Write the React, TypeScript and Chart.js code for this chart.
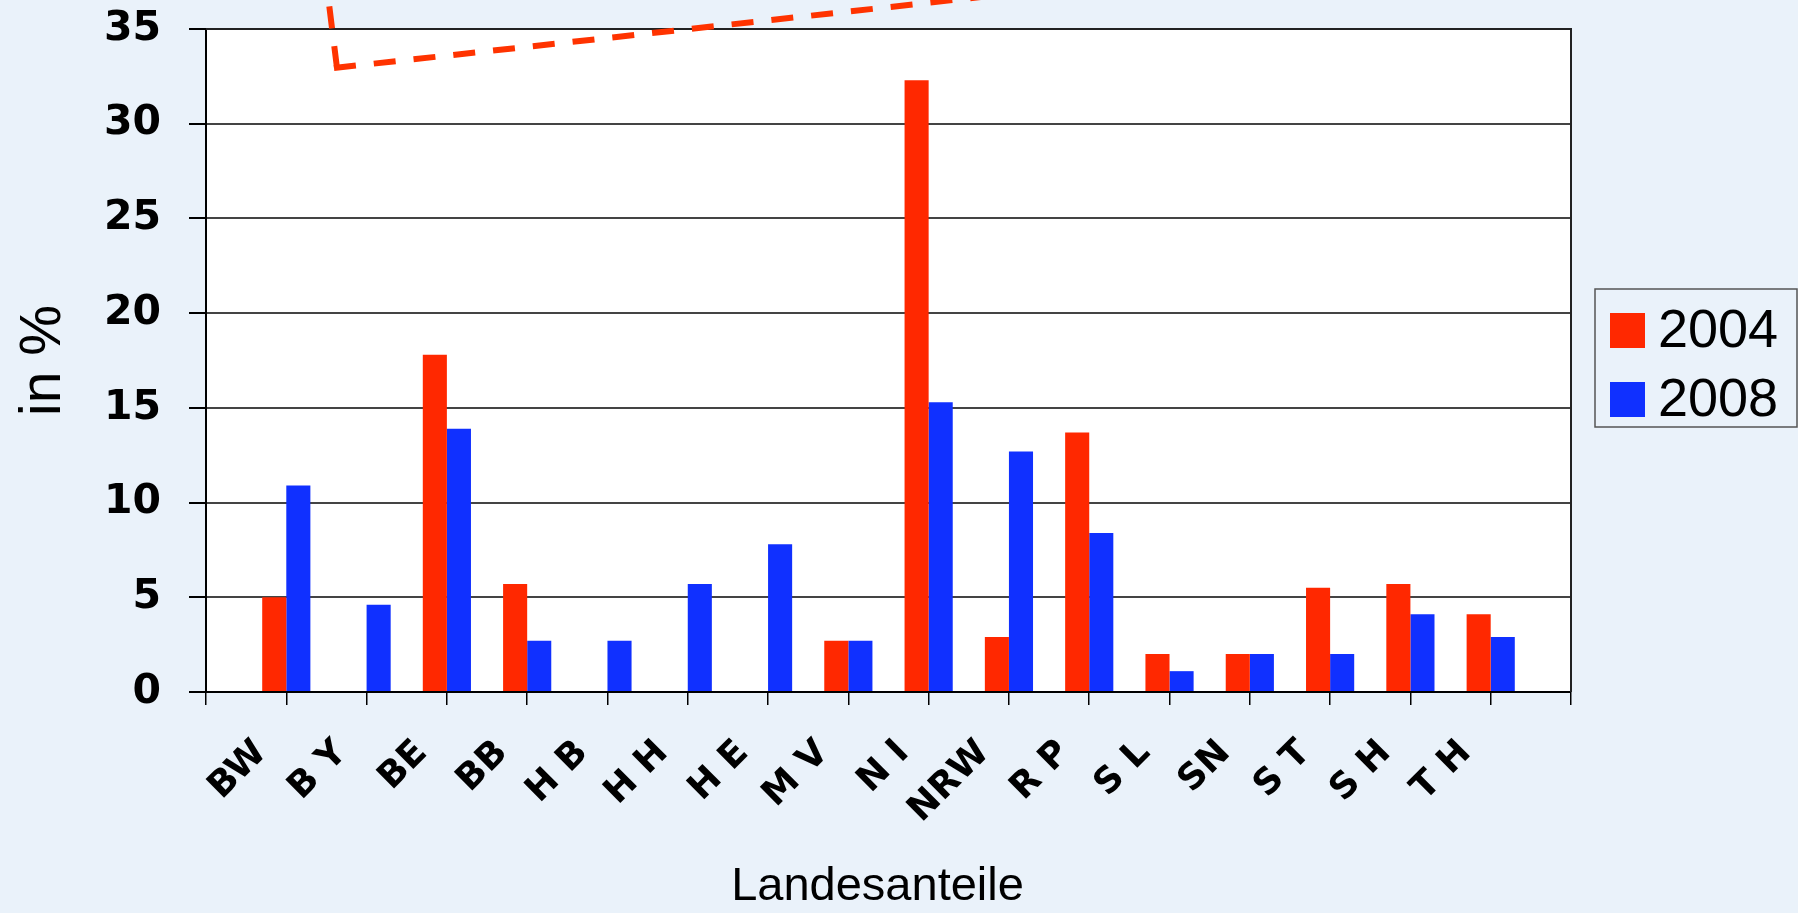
import React, { useEffect, useRef } from "react";
import { Chart, registerables } from "chart.js";

Chart.register(...registerables);

const categories = ["BW", "B Y", "BE", "BB", "H B", "H H", "H E", "M V", "N I", "NRW", "R P", "S L", "SN", "S T", "S H", "T H"];
const values2004 = [5.0, 0, 17.8, 5.7, 0, 0, 0, 2.7, 32.3, 2.9, 13.7, 2.0, 2.0, 5.5, 5.7, 4.1];
const values2008 = [10.9, 4.6, 13.9, 2.7, 2.7, 5.7, 7.8, 2.7, 15.3, 12.7, 8.4, 1.1, 2.0, 2.0, 4.1, 2.9];
const seriesNames = ["2004", "2008"];
const yTicks = [0, 5, 10, 15, 20, 25, 30, 35];
const xTitle = "Landesanteile";
const yTitle = "in %";

const RED = "#FF2800";
const BLUE = "#1030FF";
const BG = "#EAF2FA";

const decorPlugin = {
  id: "decor",
  beforeDraw(chart: any) {
    const { ctx, chartArea: ca } = chart;
    ctx.save();
    ctx.fillStyle = "#FFFFFF";
    ctx.fillRect(ca.left, ca.top, ca.right - ca.left, ca.bottom - ca.top);
    ctx.restore();
  },
  afterDraw(chart: any) {
    const { ctx, chartArea: ca } = chart;
    ctx.save();
    // plot border (top & right)
    ctx.strokeStyle = "#222";
    ctx.lineWidth = 2;
    ctx.beginPath();
    ctx.moveTo(ca.left, ca.top);
    ctx.lineTo(ca.right, ca.top);
    ctx.lineTo(ca.right, ca.bottom);
    ctx.stroke();

    // x axis title
    ctx.fillStyle = "#000";
    ctx.font = "47px 'Liberation Sans', Arial, sans-serif";
    ctx.textAlign = "center";
    ctx.textBaseline = "middle";
    ctx.fillText(xTitle, (ca.left + ca.right) / 2 - 11, chart.height - 26);

    // legend
    const lw = 202, lh = 138;
    const lx = ca.right + 24;
    const ly = (ca.top + ca.bottom) / 2 - 71.5;
    ctx.fillStyle = BG;
    ctx.fillRect(lx, ly, lw, lh);
    ctx.strokeStyle = "#555";
    ctx.lineWidth = 1.5;
    ctx.strokeRect(lx, ly, lw, lh);
    ctx.font = "54px 'Liberation Sans', Arial, sans-serif";
    ctx.textBaseline = "middle";
    ctx.textAlign = "left";
    chart.data.datasets.forEach((ds: any, i: number) => {
      const sy = ly + 24 + 69 * i;
      ctx.fillStyle = ds.backgroundColor;
      ctx.fillRect(lx + 15, sy, 35, 35);
      ctx.fillStyle = "#000";
      ctx.fillText(ds.label, lx + 63, sy + 19);
    });

    // red dashed callout line (partially cut off at top)
    ctx.strokeStyle = "#FF3300";
    ctx.lineWidth = 6;
    ctx.setLineDash([22, 18]);
    ctx.lineCap = "butt";
    ctx.beginPath();
    ctx.moveTo(337, 68);
    ctx.lineTo(327, -12);
    ctx.stroke();
    ctx.beginPath();
    ctx.moveTo(334, 68);
    ctx.lineTo(990, -4);
    ctx.stroke();
    ctx.restore();
  },
};

export default function App() {
  const ref = useRef<HTMLCanvasElement | null>(null);
  useEffect(() => {
    if (!ref.current) return;
    const labels = ["", ...categories, ""];
    const chart = new Chart(ref.current, {
      type: "bar",
      data: {
        labels,
        datasets: [
          { label: seriesNames[0], data: [null, ...values2004, null] as any, backgroundColor: RED, borderWidth: 0 },
          { label: seriesNames[1], data: [null, ...values2008, null] as any, backgroundColor: BLUE, borderWidth: 0 },
        ],
      },
      options: {
        responsive: false,
        animation: false,
        devicePixelRatio: 1,
        layout: { padding: { left: 0, right: 227, top: 29, bottom: 0 } },
        datasets: { bar: { categoryPercentage: 0.6, barPercentage: 1.0 } },
        plugins: { legend: { display: false }, tooltip: { enabled: false } },
        scales: {
          x: {
            type: "category",
            offset: false,
            grid: { offset: false, drawOnChartArea: false, drawTicks: true, tickLength: 13, tickColor: "#000", lineWidth: 1.5 },
            border: { color: "#000", width: 2 },
            ticks: {
              autoSkip: false,
              maxRotation: 45,
              minRotation: 45,
              labelOffset: -25,
              padding: 27,
              color: "#000",
              font: { family: "'DejaVu Sans', sans-serif", size: 36, weight: "bold" },
            },
            title: { display: false },
            afterFit: (s: any) => { s.height = 221; s.paddingLeft = 0; s.paddingRight = 0; },
          },
          y: {
            min: 0,
            max: 35,
            afterBuildTicks: (s: any) => { s.ticks = yTicks.map((v) => ({ value: v })); },
            grid: { color: "#444", lineWidth: 2, drawTicks: true, tickLength: 17, tickColor: "#000" },
            border: { color: "#000", width: 2 },
            ticks: {
              padding: 28,
              color: "#000",
              font: { family: "'DejaVu Sans', sans-serif", size: 41, weight: "bold" },
            },
            title: {
              display: true,
              text: yTitle,
              color: "#000",
              font: { family: "'Liberation Sans', Arial, sans-serif", size: 57, lineHeight: 1.2 },
              padding: { top: 10, bottom: 0 },
            },
            afterFit: (s: any) => { s.width = 206; s.paddingTop = 0; s.paddingBottom = 0; },
          },
        },
      },
      plugins: [decorPlugin],
    });
    return () => chart.destroy();
  }, []);
  return (
    <div style={{ position: "absolute", left: 0, top: 0, width: 1798, height: 913, background: BG, overflow: "hidden" }}>
      <canvas ref={ref} width={1798} height={913} style={{ display: "block" }} />
    </div>
  );
}
